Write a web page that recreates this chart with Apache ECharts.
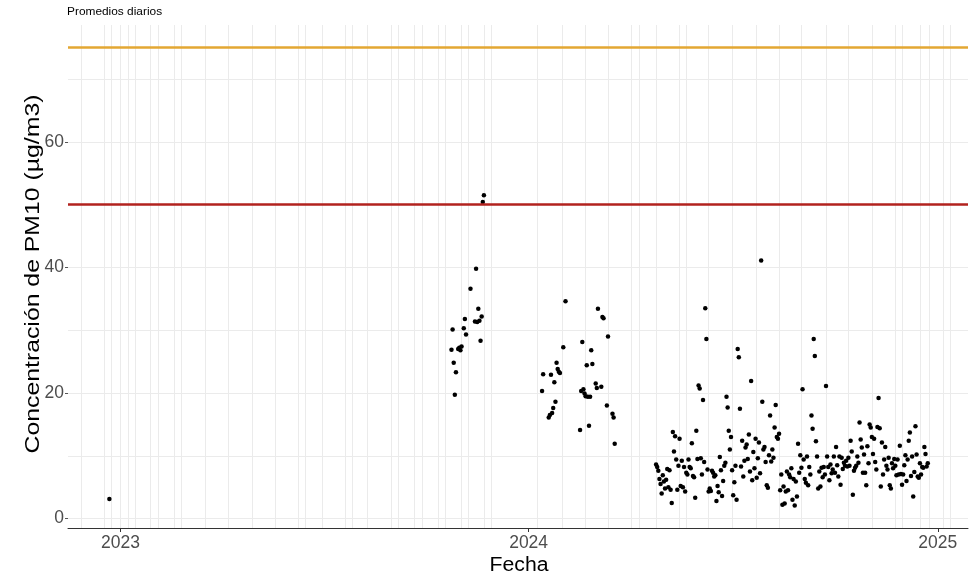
<!DOCTYPE html>
<html><head><meta charset="utf-8">
<script src="https://cdn.jsdelivr.net/npm/echarts@6/dist/echarts.min.js"></script>
<style>html,body{margin:0;padding:0;background:#fff}#c{width:971px;height:580px}</style>
</head><body><div id="c"></div>
<script>
// ---------------- DATA ----------------
const chartTitle = 'Promedios diarios';
const xTitle = 'Fecha';
const yTitle = 'Concentración de PM10 (µg/m3)';

const isolatedDates = ['2022-12-22'];
const isolatedValues = [3.1];

const fall2023Dates = ['2023-10-24','2023-10-25','2023-10-26','2023-10-27','2023-10-28','2023-10-30','2023-10-31','2023-11-01','2023-11-02','2023-11-04','2023-11-05','2023-11-06','2023-11-10','2023-11-14','2023-11-15','2023-11-16','2023-11-17','2023-11-18','2023-11-19','2023-11-20','2023-11-21','2023-11-22'];
const fall2023Values = [26.9,30.1,24.8,19.7,23.3,27.0,27.2,26.8,27.4,30.3,31.8,29.3,36.6,31.4,39.8,31.3,33.4,31.5,28.3,32.2,50.4,51.5];

const winter2024Dates = ['2024-01-13','2024-01-14','2024-01-19','2024-01-20','2024-01-21','2024-01-22','2024-01-23','2024-01-24','2024-01-25','2024-01-26','2024-01-27','2024-01-28','2024-01-29','2024-02-01','2024-02-03','2024-02-16','2024-02-17','2024-02-18','2024-02-19','2024-02-20','2024-02-21','2024-02-22','2024-02-23','2024-02-24','2024-02-25','2024-02-26','2024-02-27','2024-03-01','2024-03-02','2024-03-03','2024-03-06','2024-03-07','2024-03-08','2024-03-11','2024-03-12','2024-03-16','2024-03-17','2024-03-18'];
const winter2024Values = [20.3,23.0,16.1,16.5,22.9,16.8,17.6,21.7,18.6,24.8,23.8,23.4,23.2,27.3,34.6,14.1,20.3,28.1,20.6,19.9,19.5,24.4,19.4,14.8,19.4,26.8,24.6,21.5,20.8,33.4,21.0,32.1,31.9,18.0,29.0,16.7,16.1,11.9];

// daily values, consecutive days from the given first day
const apr2024 = {first: '2024-04-24', values: [8.6,8.2,7.6,6.3,5.5,4.0,6.9]};
const may2024 = {first: '2024-05-01', values: [5.9,4.8,6.2,7.9,5.0,7.7,4.6,2.5,13.8,10.7,13.1,9.4,4.6,8.4,12.7,5.2,9.2,5.0,8.2,4.3,7.3,7.0,9.4,8.2,8.0,12.0,6.8,6.6,3.3,14.0,9.5]};
const jun2024 = {first: '2024-06-01', values: [21.2,20.7,9.6,7.0,18.9,9.0,33.5,28.6,7.8,4.3,4.8,4.4,7.6,7.3,6.7,6.9,2.8,5.2,4.2,9.8,7.7,3.6,6.0,8.4,8.9,19.4,17.7,14.0,11.0,13.0]};
const jul2024 = {first: '2024-07-01', values: [7.7,3.7,5.8,8.4,3.0,27.0,25.7,17.5,8.3,12.4,6.7,9.2,11.3,11.8,9.5,13.4,7.5,21.9,6.1,10.6,8.0,12.7,6.5,9.6,12.1,7.2,41.1,18.6,11.0,11.4,9.0]};
const aug2024 = {first: '2024-08-01', values: [5.3,4.9,10.1,16.4,9.1,11.0,9.7,14.5,18.1,13.0,12.7,13.5,4.5,7.0,2.2,5.1,2.4,4.3,7.5,4.5,7.0,6.6,8.0,3.0,6.3,2.1,5.9,3.5,11.9,7.3,10.1]};
const sep2024 = {first: '2024-09-01', values: [8.1,20.6,9.4,6.3,5.7,9.9,5.3,8.2,7.0,16.4,14.3,28.6,25.9,12.3,9.9,4.8,7.5,5.1,8.1,6.6,8.2,7.0,21.1,9.9,8.2,6.1,8.6,7.2,7.8,9.9]};
const oct2024 = {first: '2024-10-01', values: [7.3,11.4,8.5,6.7,9.9,5.4,9.7,7.9,8.9,8.4,9.2,8.3,9.7,8.4,12.4,10.7,3.8,7.6,8.1,8.4,9.9,8.9,15.3,12.6,11.3,7.3,10.2,7.3,5.3,11.5,8.8]};
const nov2024 = {first: '2024-11-01', values: [15.0,14.5,13.0,10.3,12.7,9.0,7.8,14.6,19.2,14.4,5.1,12.1,7.0,9.4,11.4,8.4,7.8,9.7,5.3,4.8,8.8,8.0,9.5,8.4,6.9,9.4,7.0,11.6,7.1,5.4]};
const dec2024 = {first: '2024-12-01', values: [7.0,8.5,10.1,6.0,9.4,12.4,13.7,6.8,9.9,3.5,7.4,14.7,10.2,6.7,6.5,8.8,7.0,8.2,8.1,11.4,10.3,8.3,8.8]};

const referenceValues = [50, 75];
const referenceColors = ['#b2221e', '#e3a733'];

const xTickDates = ['2023-01-01','2024-01-01','2025-01-01'];
const yTickValues = [0, 20, 40, 60];
const yGridValues = [0, 10, 20, 30, 40, 50, 60, 70];
const xGridDates = ['2022-11-27','2022-12-17','2022-12-24','2023-01-01','2023-01-08','2023-01-14','2023-01-28','2023-02-04','2023-02-18','2023-02-24','2023-03-18','2023-04-07','2023-04-29','2023-05-19','2023-06-09','2023-06-15','2023-06-30','2023-07-21','2023-07-27','2023-08-10','2023-08-31','2023-09-06','2023-09-21','2023-09-28','2023-10-12','2023-10-18','2023-11-02','2023-11-08','2023-11-22','2023-11-29','2024-01-09','2024-01-31','2024-02-21','2024-03-12','2024-04-02','2024-04-09','2024-04-24','2024-05-15','2024-05-21','2024-06-10','2024-07-01','2024-07-23','2024-08-12','2024-09-01','2024-09-23','2024-10-13','2024-11-03','2024-11-24','2024-11-30','2024-12-16','2024-12-24','2025-01-06','2025-01-12'];

const xMin = '2022-11-15';
const xMax = '2025-01-28';
const yMin = -1.5;
const yMax = 78.6;

// ---------------- BUILD ----------------
function ts(s) { const p = s.split('-').map(Number); return new Date(p[0], p[1]-1, p[2]).getTime(); }
let points = [];
function addPairs(dates, vals) { dates.forEach((d, i) => points.push([ts(d), vals[i]])); }
function addDaily(block) { const t0 = ts(block.first); block.values.forEach((v, i) => { const d = new Date(t0); d.setDate(d.getDate() + i); points.push([d.getTime(), v]); }); }
addPairs(isolatedDates, isolatedValues);
addPairs(fall2023Dates, fall2023Values);
addPairs(winter2024Dates, winter2024Values);
[apr2024, may2024, jun2024, jul2024, aug2024, sep2024, oct2024, nov2024, dec2024].forEach(addDaily);

const FONT = '"Liberation Sans", Arial, Helvetica, sans-serif';
const gridLineStyle = {color: '#ebebeb', width: 1, type: 'solid'};

const chart = echarts.init(document.getElementById('c'), null, {renderer: 'canvas'});
chart.setOption({
  animation: false,
  backgroundColor: '#ffffff',
  textStyle: {fontFamily: FONT},
  grid: {left: 68, right: 3, top: 25, bottom: 52, containLabel: false},
  xAxis: {
    type: 'value', min: ts(xMin), max: ts(xMax), scale: true,
    axisLine: {show: true, onZero: false, lineStyle: {color: '#333', width: 1}},
    axisTick: {show: true, customValues: xTickDates.map(ts), length: 4, lineStyle: {color: '#333'}},
    axisLabel: {show: true, customValues: xTickDates.map(ts), fontSize: 17.5, color: '#4d4d4d', margin: 6, fontFamily: FONT,
      formatter: v => String(new Date(v).getFullYear())},
    splitLine: {show: false}
  },
  yAxis: {
    type: 'value', min: yMin, max: yMax,
    axisLine: {show: false},
    axisTick: {show: true, customValues: yTickValues, length: 3, lineStyle: {color: '#555'}},
    axisLabel: {show: true, customValues: yTickValues, fontSize: 17.5, color: '#4d4d4d', margin: 4, fontFamily: FONT},
    splitLine: {show: false}
  },
  graphic: [
    {type: 'text', x: 67, y: 6, scaleX: 1.08, style: {text: chartTitle, font: '11px ' + FONT, fill: '#000'}},
    {type: 'text', x: 519, y: 565, scaleX: 1.06, style: {text: xTitle, font: '20px ' + FONT, fill: '#000', align: 'center', verticalAlign: 'middle'}},
    {type: 'text', x: 33, y: 274, rotation: Math.PI / 2, scaleX: 1.24, style: {text: yTitle, font: '20px ' + FONT, fill: '#000', align: 'center', verticalAlign: 'middle'}}
  ],
  series: [
    {type: 'scatter', data: [], z: 1, silent: true,
      markLine: {z: 1, silent: true, symbol: ['none', 'none'], label: {show: false}, lineStyle: gridLineStyle, animation: false,
        data: xGridDates.map(d => ({xAxis: ts(d)})).concat(yGridValues.map(v => ({yAxis: v})))}},
    {type: 'scatter', data: points, z: 3, symbol: 'circle', symbolSize: 4.5, itemStyle: {color: '#000', opacity: 1}, silent: true},
    {type: 'scatter', data: [], z: 5, silent: true,
      markLine: {z: 5, silent: true, symbol: ['none', 'none'], label: {show: false}, animation: false,
        data: referenceValues.map((v, i) => ({yAxis: v, lineStyle: {color: referenceColors[i], width: 2.5, type: 'solid'}}))}}
  ]
});
</script>
</body></html>
